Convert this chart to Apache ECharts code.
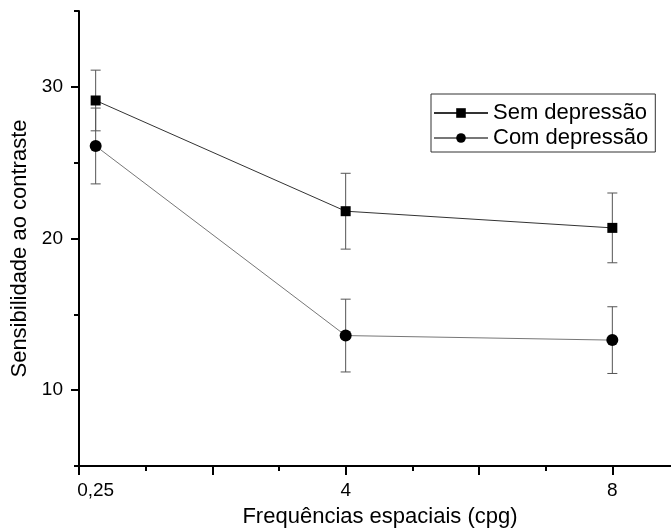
<!DOCTYPE html>
<html>
<head>
<meta charset="utf-8">
<script src="https://cdn.jsdelivr.net/npm/echarts@6/dist/echarts.min.js"></script>
<style>html,body{margin:0;padding:0;background:#fff}#c{width:671px;height:532px}</style>
</head>
<body>
<div id="c"></div>
<script>
// Data
var xValues = [0.25, 4, 8];
var xTickLabels = [0.25, 4, 8];
var yTickLabels = [10, 20, 30];
var semName = 'Sem depressão';
var comName = 'Com depressão';
var semMean = [29.1, 21.8, 20.7];
var semErr = [2.0, 2.5, 2.3];
var comMean = [26.1, 13.6, 13.3];
var comErr = [2.5, 2.4, 2.2];
var xMajorTicks = [0, 2, 4, 6, 8];
var xMinorTicks = [1, 3, 5, 7];
var yMajorTicks = [10, 20, 30];
var yMinorTicks = [5, 15, 25, 35];

var FONT = '"Liberation Sans", Arial, sans-serif';

function pts(mean) { return xValues.map(function (x, i) { return [x, mean[i]]; }); }
function errPts(mean, err) { return xValues.map(function (x, i) { return [x, mean[i] - err[i], mean[i] + err[i]]; }); }

function errRender(params, api) {
  var x = api.value(0), lo = api.value(1), hi = api.value(2);
  var pLo = api.coord([x, lo]), pHi = api.coord([x, hi]);
  var w = 5;
  var st = { stroke: '#555', lineWidth: 1 };
  return {
    type: 'group',
    children: [
      { type: 'line', shape: { x1: pLo[0], y1: pLo[1], x2: pHi[0], y2: pHi[1] }, style: st },
      { type: 'line', shape: { x1: pLo[0] - w, y1: pLo[1], x2: pLo[0] + w, y2: pLo[1] }, style: st },
      { type: 'line', shape: { x1: pHi[0] - w, y1: pHi[1], x2: pHi[0] + w, y2: pHi[1] }, style: st }
    ]
  };
}

var chart = echarts.init(document.getElementById('c'), null, { renderer: 'canvas' });
chart.setOption({
  animation: false,
  backgroundColor: '#fff',
  textStyle: { fontFamily: FONT },
  grid: { left: 79, right: 0, top: 11, bottom: 66, containLabel: false, outerBoundsMode: 'none' },
  legend: {
    orient: 'vertical',
    left: 431, top: 94,
    data: [semName, comName],
    itemWidth: 54, itemHeight: 12, itemGap: 3,
    padding: [8, 7, 3, 2],
    borderColor: '#333', borderWidth: 1, borderRadius: 0,
    textStyle: { fontSize: 22, color: '#000', fontFamily: FONT }
  },
  xAxis: [{
    type: 'value', min: 0, max: 8.88, position: 'bottom',
    name: 'Frequências espaciais (cpg)', nameLocation: 'middle', nameGap: 40,
    nameTextStyle: { fontSize: 22, color: '#000', fontFamily: FONT, padding: [0, 0, 0, 10] },
    axisLine: { show: true, onZero: false, lineStyle: { color: '#000', width: 2 } },
    axisTick: { show: true, customValues: xMajorTicks, length: 9, lineStyle: { color: '#000', width: 2 } },
    axisLabel: { show: true, customValues: xTickLabels, margin: 15, fontSize: 19, color: '#000', fontFamily: FONT,
      formatter: function (v) { return String(v).replace('.', ','); } },
    splitLine: { show: false }
  }, {
    type: 'value', min: 0, max: 8.88, position: 'bottom',
    axisLine: { show: false, onZero: false },
    axisTick: { show: true, customValues: xMinorTicks, length: 5, lineStyle: { color: '#000', width: 2 } },
    axisLabel: { show: false },
    splitLine: { show: false }
  }],
  yAxis: [{
    type: 'value', min: 5, max: 35, position: 'left',
    name: 'Sensibilidade ao contraste', nameLocation: 'middle', nameGap: 41,
    nameTextStyle: { fontSize: 22, color: '#000', fontFamily: FONT, padding: [0, 20, 0, 0] },
    axisLine: { show: true, onZero: false, lineStyle: { color: '#000', width: 2 } },
    axisTick: { show: true, customValues: yMajorTicks, length: 8, lineStyle: { color: '#000', width: 2 } },
    axisLabel: { show: true, customValues: yTickLabels, margin: 16, fontSize: 19, color: '#000', fontFamily: FONT },
    splitLine: { show: false }
  }, {
    type: 'value', min: 5, max: 35, position: 'left',
    axisLine: { show: false, onZero: false },
    axisTick: { show: true, customValues: yMinorTicks, length: 5, lineStyle: { color: '#000', width: 2 } },
    axisLabel: { show: false },
    splitLine: { show: false }
  }],
  series: [
    {
      type: 'custom', name: 'errSem', xAxisIndex: 0, yAxisIndex: 0, z: 1,
      renderItem: errRender, data: errPts(semMean, semErr), encode: { x: 0, y: [1, 2] }, silent: true
    },
    {
      type: 'custom', name: 'errCom', xAxisIndex: 0, yAxisIndex: 0, z: 1,
      renderItem: errRender, data: errPts(comMean, comErr), encode: { x: 0, y: [1, 2] }, silent: true
    },
    {
      type: 'line', name: semName, xAxisIndex: 0, yAxisIndex: 0, z: 3,
      data: pts(semMean), symbol: 'rect', symbolSize: 10, showSymbol: true,
      lineStyle: { color: '#333', width: 1 },
      itemStyle: { color: '#000', borderWidth: 0 }
    },
    {
      type: 'line', name: comName, xAxisIndex: 0, yAxisIndex: 0, z: 3,
      data: pts(comMean), symbol: 'circle', symbolSize: 12, showSymbol: true,
      lineStyle: { color: '#777', width: 1 },
      itemStyle: { color: '#000', borderWidth: 0 }
    }
  ]
});
</script>
</body>
</html>
